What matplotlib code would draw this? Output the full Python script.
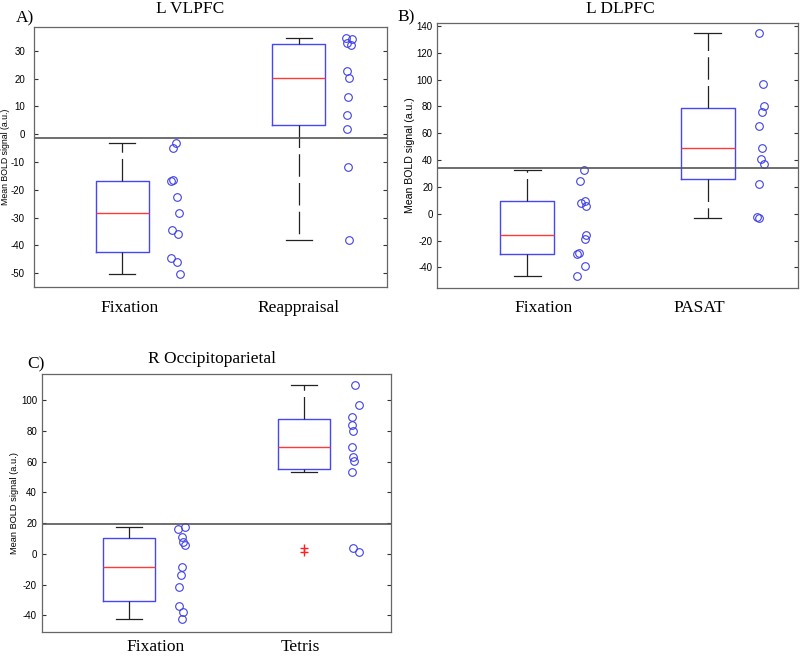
import numpy as np
import matplotlib.pyplot as plt

plt.rcParams['font.family'] = 'Liberation Sans'
plt.rcParams['axes.unicode_minus'] = False

W, H = 800, 656

# panel A: L VLPFC
a_fix = [-3.1, -4.9, -16.6, -16.9, -22.6, -28.2, -34.6, -35.8, -44.7, -46.1, -50.2]
a_fix_jit = [0.304, 0.289, 0.285, 0.276, 0.308, 0.321, 0.283, 0.317, 0.276, 0.308, 0.327]
a_task = [34.5, 34.2, 32.75, 32.2, 22.8, 20.2, 13.5, 6.8, 2.0, -11.9, -38.0]
a_task_jit = [0.268, 0.300, 0.275, 0.298, 0.272, 0.282, 0.280, 0.276, 0.272, 0.280, 0.282]

# panel B: L DLPFC
b_fix = [32.6, 24.4, 9.6, 7.8, 5.4, -16.2, -18.7, -29.4, -29.9, -38.8, -46.5]
b_fix_jit = [0.313, 0.295, 0.322, 0.300, 0.324, 0.324, 0.319, 0.286, 0.278, 0.319, 0.278]
b_task = [134.5, 96.4, 80.2, 76.0, 65.4, 49.2, 41.1, 36.9, 22.5, -2.1, -3.3]
b_task_jit = [0.284, 0.304, 0.313, 0.299, 0.286, 0.299, 0.295, 0.313, 0.286, 0.271, 0.284]

# panel C: R Occipitoparietal
c_fix = [17.6, 16.1, 11.1, 7.8, 5.4, -8.7, -13.5, -21.3, -33.7, -37.8, -42.6]
c_fix_jit = [0.318, 0.279, 0.304, 0.308, 0.318, 0.304, 0.299, 0.283, 0.283, 0.310, 0.302]
c_task = [109.6, 97.0, 89.3, 83.9, 79.6, 69.3, 63.3, 60.4, 53.5, 3.7, 0.9]
c_task_jit = [0.294, 0.317, 0.279, 0.275, 0.285, 0.275, 0.281, 0.289, 0.275, 0.285, 0.317]

panels = [
    dict(title='L VLPFC', letter='A)', cats=['Fixation', 'Reappraisal'],
         data=[a_fix, a_task], jit=[a_fix_jit, a_task_jit], hline=-1.5,
         ylim=(-55, 38.6), yticks=np.arange(-50, 31, 10),
         rect=(34, 27, 387, 287), title_xy=(190, 9), letter_xy=(25, 18),
         cat_x=(130, 299), cat_y=312, tpad=6.5, yl_size=6.3, yl_pad=0.5),
    dict(title='L DLPFC', letter='B)', cats=['Fixation', 'PASAT'],
         data=[b_fix, b_task], jit=[b_fix_jit, b_task_jit], hline=34.4,
         ylim=(-55.4, 142.2), yticks=np.arange(-40, 141, 20),
         rect=(437, 23, 798, 288), title_xy=(620, 9), letter_xy=(406, 17),
         cat_x=(544, 699), cat_y=312, tpad=3.0, yl_size=7.6, yl_pad=1.5),
    dict(title='R Occipitoparietal', letter='C)', cats=['Fixation', 'Tetris'],
         data=[c_fix, c_task], jit=[c_fix_jit, c_task_jit], hline=19.6,
         ylim=(-50.9, 117), yticks=np.arange(-40, 101, 20),
         rect=(42, 374, 391, 632), title_xy=(212, 359), letter_xy=(36, 364),
         cat_x=(156, 300), cat_y=651, tpad=3.6, yl_size=6.7, yl_pad=1.5),
]


def matlab_stats(vals):
    v = np.sort(np.asarray(vals, dtype=float))
    q1, med, q3 = np.percentile(v, [25, 50, 75], method='hazen')
    iqr = q3 - q1
    lo = v[v >= q1 - 1.5 * iqr].min()
    hi = v[v <= q3 + 1.5 * iqr].max()
    fl = v[(v < lo) | (v > hi)]
    return dict(med=med, q1=q1, q3=q3, whislo=lo, whishi=hi, fliers=fl)


fig = plt.figure(figsize=(8, 6.56), dpi=100)
box_c = '#4646f5'
pt_c = '#4040e6'

for p in panels:
    x0, y0, x1, y1 = p['rect']
    ax = fig.add_axes([x0 / W, 1 - y1 / H, (x1 - x0) / W, (y1 - y0) / H])
    stats = [matlab_stats(d) for d in p['data']]
    ax.bxp(stats, positions=[1, 2], widths=0.3, capwidths=0.15,
           boxprops=dict(color=box_c, lw=1.0),
           medianprops=dict(color='#ff3838', lw=1.0),
           whiskerprops=dict(color='#222222', lw=0.9, linestyle=(0, (18, 5))),
           capprops=dict(color='#222222', lw=0.9),
           flierprops=dict(marker='+', markeredgecolor='#ff2020', markersize=6,
                           linestyle='none'))
    for i, (d, j) in enumerate(zip(p['data'], p['jit'])):
        ax.plot(np.array(j) + i + 1, d, 'o', mfc='none', mec=pt_c,
                markersize=5.5, mew=0.8, linestyle='none')
    ax.axhline(p['hline'], color='#555555', lw=1.2)
    ax.set_xlim(0.5, 2.5)
    ax.set_ylim(*p['ylim'])
    ax.set_yticks(p['yticks'])
    ax.set_xticks([])
    ax.tick_params(axis='y', direction='in', length=3, labelsize=7,
                   pad=p['tpad'], right=True, colors='#333333',
                   labelcolor='black')
    for s in ax.spines.values():
        s.set_color('#666666')
        s.set_linewidth(0.9)
    ax.set_ylabel('Mean BOLD signal (a.u.)', fontsize=p['yl_size'],
                  labelpad=p['yl_pad'])

    fig.text(p['title_xy'][0] / W, 1 - p['title_xy'][1] / H, p['title'],
             family='Liberation Serif', fontsize=12.5, ha='center', va='center')
    fig.text(p['letter_xy'][0] / W, 1 - p['letter_xy'][1] / H, p['letter'],
             family='Liberation Serif', fontsize=12.5, ha='center', va='center')
    for cx, name in zip(p['cat_x'], p['cats']):
        fig.text(cx / W, 1 - p['cat_y'] / H, name, family='Liberation Serif',
                 fontsize=12.5, ha='center', va='baseline')

fig.savefig('out.png', dpi=100)
